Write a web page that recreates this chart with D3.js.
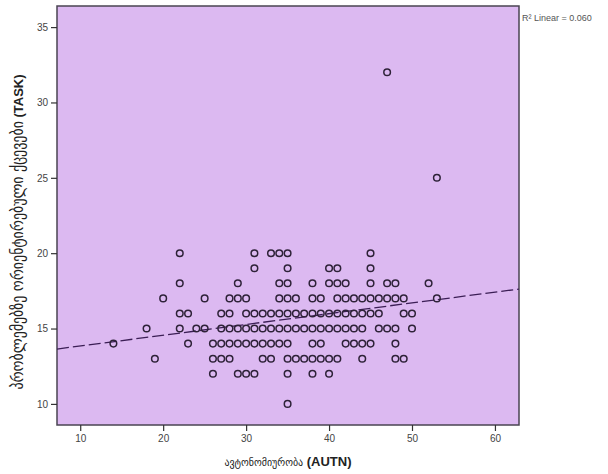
<!DOCTYPE html>
<html>
<head>
<meta charset="utf-8">
<script src="https://cdn.jsdelivr.net/npm/d3@7"></script>
<style>
  body { margin: 0; background: #fff; }
  text { font-family: "Liberation Sans", "DejaVu Sans", Arial, sans-serif; }
  .geo { font-family: "DejaVu Sans Condensed", "DejaVu Sans", sans-serif; font-weight: normal; }
</style>
</head>
<body>
<div class="chart"></div>
<script>
// TASK levels (y) and the AUTN scores (x) seen at each level
var taskLevels = [32, 25, 20, 19, 18, 17, 16, 15, 14, 13, 12, 10]
var autnAtLevel = [
  [47],
  [53],
  [22, 31, 33, 34, 35, 45],
  [31, 35, 40, 41, 45],
  [22, 29, 34, 35, 38, 40, 41, 42, 45, 47, 48, 52],
  [20, 25, 28, 29, 30, 34, 35, 36, 38, 39, 41, 42, 43, 44, 45, 46, 47, 48, 49, 53],
  [22, 23, 27, 28, 30, 31, 32, 33, 34, 35, 36, 37, 38, 39, 40, 41, 42, 43, 44, 45, 46, 49, 50],
  [18, 22, 24, 25, 27, 28, 29, 30, 31, 32, 33, 34, 35, 36, 37, 38, 39, 40, 41, 42, 43, 44, 46, 47, 48, 50],
  [14, 23, 26, 27, 28, 29, 30, 31, 32, 33, 34, 35, 38, 39, 42, 43, 44, 45, 48],
  [19, 26, 27, 28, 32, 33, 35, 36, 37, 38, 39, 40, 41, 44, 48, 49],
  [26, 29, 30, 31, 35, 38, 40],
  [35]
]
var xTicks = [10, 20, 30, 40, 50, 60]
var yTicks = [10, 15, 20, 25, 30, 35]
var xTitle = ['ავტონომიურობა', ' (AUTN)']
var yTitle = ['პრობლემებზე ორიენტირებული ქცევები', ' (TASK)']
var fitLabel = 'R² Linear = 0.060'

var width = 608
var height = 474
var plotLeft = 57
var plotRight = 519
var plotTop = 6
var plotBottom = 425

var points = []
taskLevels.forEach(function (t, i) {
  autnAtLevel[i].forEach(function (a) { points.push({ x: a, y: t }) })
})

// least squares fit, as the source software draws it
var mx = d3.mean(points, function (d) { return d.x })
var my = d3.mean(points, function (d) { return d.y })
var sxy = d3.sum(points, function (d) { return (d.x - mx) * (d.y - my) })
var sxx = d3.sum(points, function (d) { return (d.x - mx) * (d.x - mx) })
var slope = sxy / sxx
var intercept = my - slope * mx

var x = d3.scaleLinear().domain([7.2, 62.9]).range([plotLeft, plotRight])
var y = d3.scaleLinear().domain([8.6, 36.4]).range([plotBottom, plotTop])

var svg = d3.select('.chart')
  .append('svg')
  .attr('width', width)
  .attr('height', height)

svg.append('rect')
  .attr('x', plotLeft)
  .attr('y', plotTop)
  .attr('width', plotRight - plotLeft)
  .attr('height', plotBottom - plotTop)
  .attr('fill', '#dcb9f1')
  .attr('stroke', '#4a4452')
  .attr('stroke-width', 1.5)

var xAxis = svg.append('g')
  .attr('transform', 'translate(0,' + plotBottom + ')')
  .call(d3.axisBottom(x).tickValues(xTicks).tickSize(6).tickPadding(4))
xAxis.select('.domain').remove()

var yAxis = svg.append('g')
  .attr('transform', 'translate(' + plotLeft + ',0)')
  .call(d3.axisLeft(y).tickValues(yTicks).tickSize(6).tickPadding(3))
yAxis.select('.domain').remove()

svg.selectAll('.tick line').attr('stroke', '#333').attr('stroke-width', 1.2)
svg.selectAll('.tick text')
  .attr('fill', '#444')
  .style('font-size', '10px')
  .style('font-family', '"Liberation Sans", Arial, sans-serif')

svg.append('line')
  .attr('x1', x(x.domain()[0]))
  .attr('y1', y(intercept + slope * x.domain()[0]))
  .attr('x2', x(x.domain()[1]))
  .attr('y2', y(intercept + slope * x.domain()[1]))
  .attr('stroke', '#3b1e55')
  .attr('stroke-width', 1.3)
  .attr('stroke-dasharray', '12,4')

svg.selectAll('circle')
  .data(points)
  .enter()
  .append('circle')
  .attr('cx', function (d) { return x(d.x) })
  .attr('cy', function (d) { return y(d.y) })
  .attr('r', 3.3)
  .attr('fill', 'none')
  .attr('stroke', '#2e2238')
  .attr('stroke-width', 1.5)

svg.append('text')
  .attr('x', plotRight + 3)
  .attr('y', 21)
  .attr('fill', '#555')
  .style('font-size', '9px')
  .text(fitLabel)

var xt = svg.append('text')
  .attr('x', (plotLeft + plotRight) / 2)
  .attr('y', 466)
  .attr('text-anchor', 'middle')
  .attr('fill', '#222')
  .style('font-size', '13px')
  .style('font-weight', 'bold')
xt.append('tspan').attr('class', 'geo').style('font-size', '11px').text(xTitle[0])
xt.append('tspan').text(xTitle[1])

var yt = svg.append('text')
  .attr('transform', 'translate(23,' + 232 + ') rotate(-90)')
  .attr('text-anchor', 'middle')
  .attr('fill', '#222')
  .style('font-size', '13px')
  .style('font-weight', 'bold')
yt.append('tspan').attr('class', 'geo').style('font-size', '15.5px').text(yTitle[0])
yt.append('tspan').text(yTitle[1])
</script>
</body>
</html>
